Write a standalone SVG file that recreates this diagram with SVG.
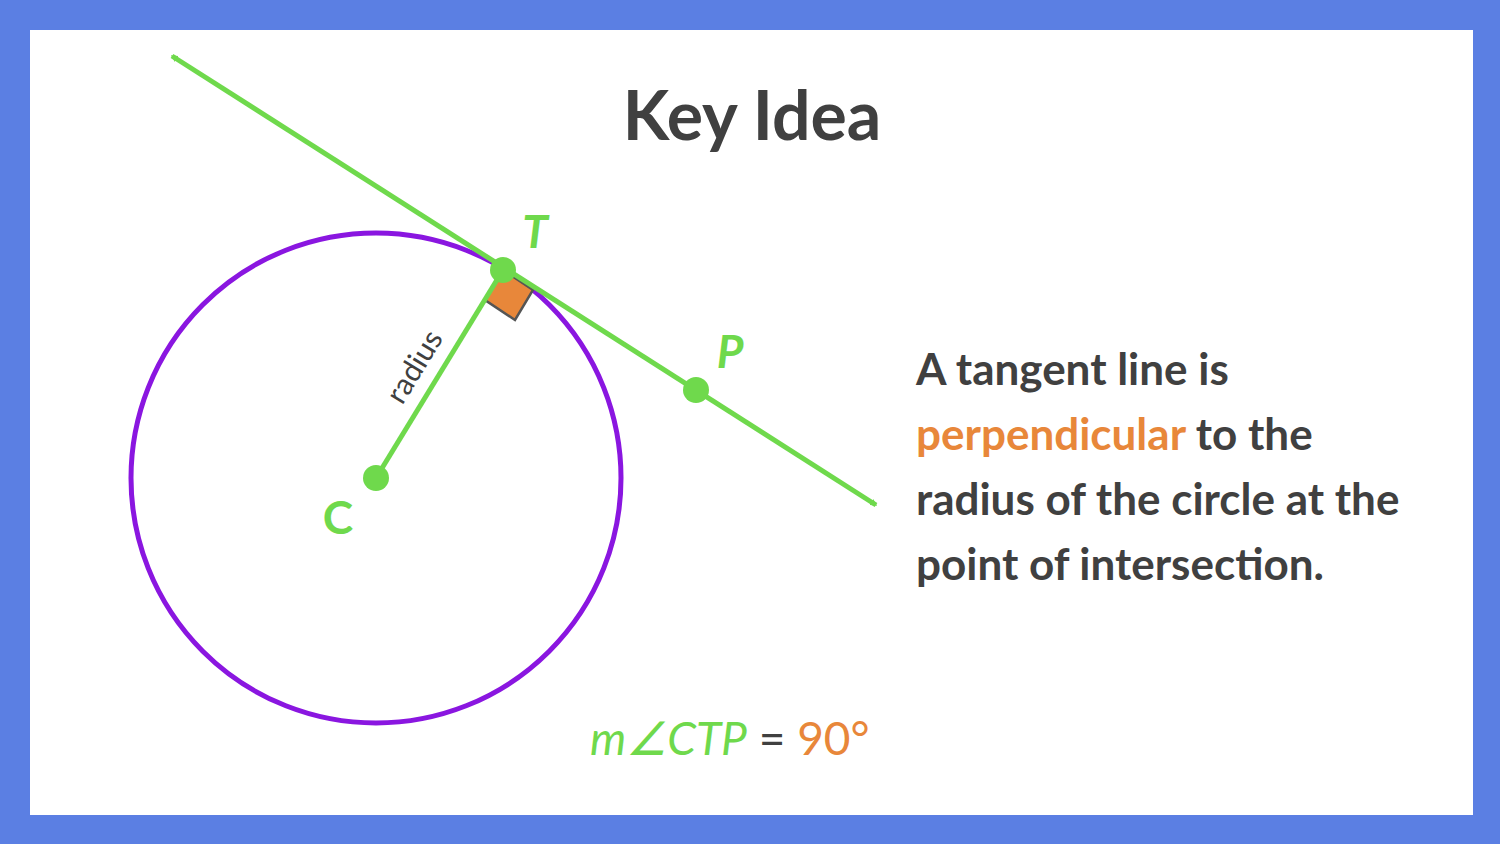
<svg xmlns="http://www.w3.org/2000/svg" width="1500" height="844" viewBox="0 0 1500 844">
<defs>
<style>
.g{fill:#6fd94c}
.ln{stroke:#6fd94c;stroke-width:5;fill:none}
.lbl{font-family:Lato,"Liberation Sans",sans-serif;font-weight:bold;font-size:46px;fill:#6fd94c}
.body{font-family:Lato,"Liberation Sans",sans-serif;font-weight:bold;font-size:44px;fill:#404040}
</style>
<marker id="ah" viewBox="0 0 10 10" refX="8" refY="5" markerWidth="7" markerHeight="7" markerUnits="userSpaceOnUse" orient="auto-start-reverse">
<path d="M0,0 L10,5 L0,10 z" fill="#6fd94c"/>
</marker>
</defs>
<rect width="1500" height="844" fill="#5b7fe3"/>
<rect x="30" y="30" width="1443" height="785" fill="#fff"/>
<text x="752" y="140" text-anchor="middle" font-family="Lato,'Liberation Sans',sans-serif" font-weight="bold" font-size="68" fill="#404040">Key Idea</text>
<g id="circle"><circle cx="376" cy="478" r="245" fill="none" stroke="#8a16e0" stroke-width="5"/></g>
<g id="rightangle"><polygon points="503,270 485,300 515,320 533,290" fill="#e8873a" stroke="#555" stroke-width="2.5"/></g>
<g id="connectors">
<line class="ln" x1="376" y1="478" x2="503" y2="270"/>
<line x1="172" y1="56" x2="876" y2="505" stroke="#6fd94c" stroke-width="5" marker-start="url(#ah)" marker-end="url(#ah)"/>
</g>
<text transform="translate(423,372) rotate(-58.6)" text-anchor="middle" font-family="Lato,'Liberation Sans',sans-serif" font-size="30" fill="#404040">radius</text>
<g id="T"><circle class="g" cx="503" cy="270" r="13"/><text class="lbl" x="535" y="248" text-anchor="middle" font-style="italic">T</text></g>
<g id="P"><circle class="g" cx="696" cy="390" r="13"/><text class="lbl" x="730" y="368" text-anchor="middle" font-style="italic">P</text></g>
<g id="C"><circle class="g" cx="376" cy="478" r="13"/><text class="lbl" x="338" y="534" text-anchor="middle">C</text></g>
<text class="body" x="916" y="385">A tangent line is</text>
<text class="body" x="916" y="450"><tspan fill="#e8873a">perpendicular</tspan> to the</text>
<text class="body" x="916" y="515">radius of the circle at the</text>
<text class="body" x="916" y="580">point of intersection.</text>
<text x="590" y="755" font-family="Lato,'Liberation Sans',sans-serif" font-size="46"><tspan fill="#6fd94c" font-style="italic">m∠CTP</tspan><tspan fill="#404040"> = </tspan><tspan fill="#e8873a">90°</tspan></text>
</svg>
